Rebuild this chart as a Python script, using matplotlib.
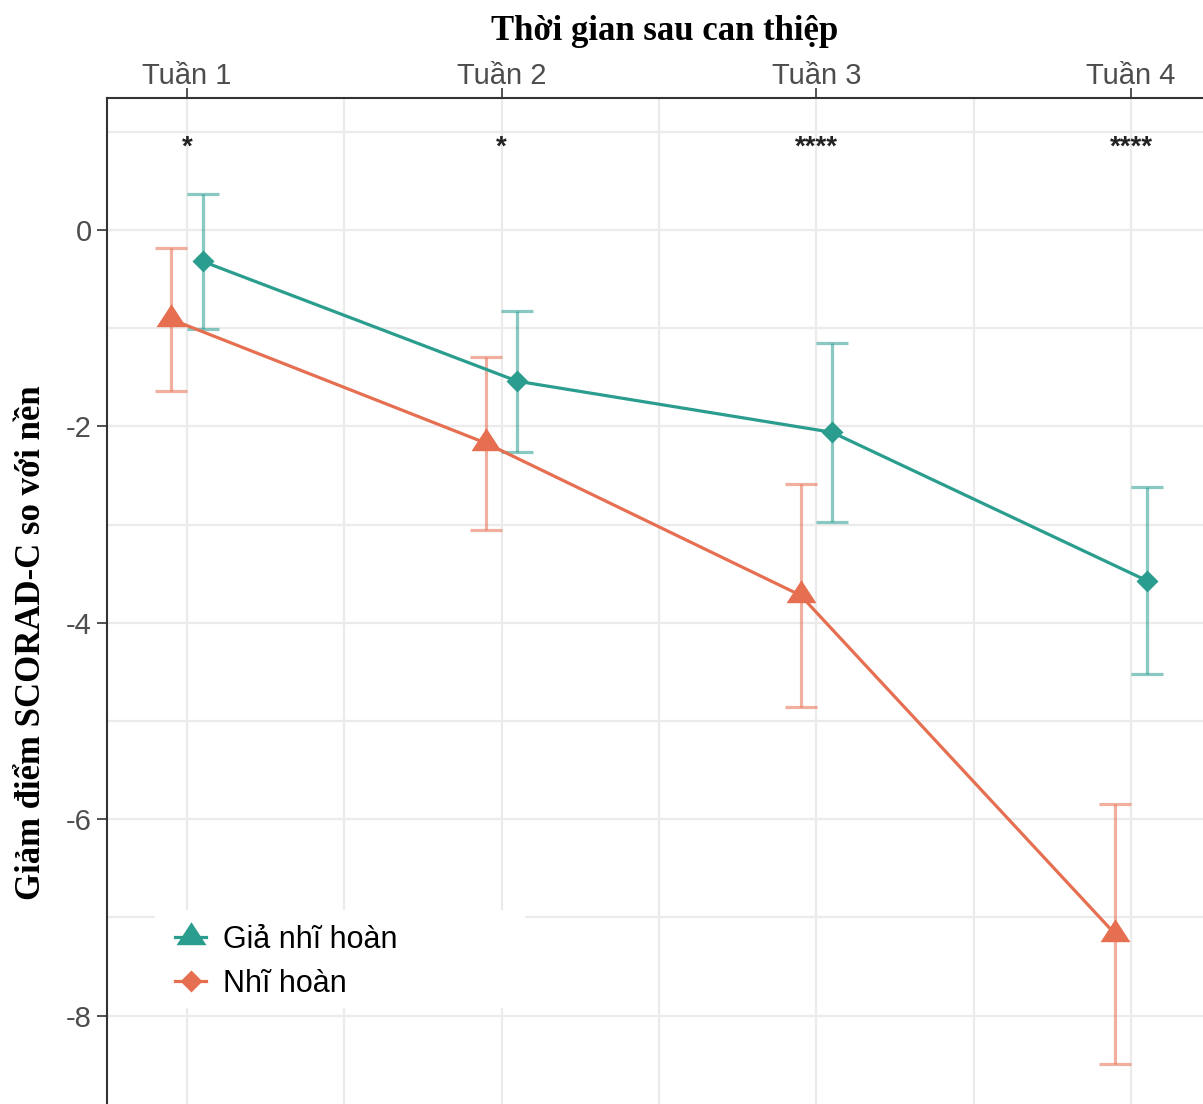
import matplotlib
matplotlib.use("Agg")
import matplotlib.pyplot as plt
from matplotlib.lines import Line2D
from matplotlib.patches import Rectangle
from matplotlib.ticker import MultipleLocator, FuncFormatter

# ---- data -------------------------------------------------------------
weeks = ["Tuần 1", "Tuần 2", "Tuần 3", "Tuần 4"]
significance = ["*", "*", "****", "****"]

# change in SCORAD-C from baseline: mean and half-width of the interval
sham_mean = [-0.32, -1.54, -2.06, -3.57]
sham_half = [0.69, 0.72, 0.91, 0.95]
treat_mean = [-0.91, -2.17, -3.72, -7.17]
treat_half = [0.73, 0.88, 1.135, 1.32]

legend_labels = ["Giả nhĩ hoàn", "Nhĩ hoàn"]
title_text = "Thời gian sau can thiệp"
ylabel_text = "Giảm điểm SCORAD-C so với nền"

# ---- style ------------------------------------------------------------
TEAL = "#2a9d8f"
ORANGE = "#e76f51"
GRID = "#ebebeb"
TICK_GREY = "#4d4d4d"
W, H = 1203, 1104
DPI = 100
DODGE = 0.05
LW = 2.3

# triangle centred on its centroid
tri = [(0, 15.3), (-15, -7.7), (15, -7.7), (0, 15.3)]

fig = plt.figure(figsize=(W / DPI, H / DPI), dpi=DPI)
left, top = 107, 98
ax = fig.add_axes([left / W, 0, (W - left) / W, (H - top) / H])

x = list(range(1, len(weeks) + 1))
xs_sham = [v + DODGE for v in x]
xs_treat = [v - DODGE for v in x]

# error bars
ax.errorbar(xs_sham, sham_mean, yerr=sham_half, fmt="none", ecolor=TEAL,
            alpha=0.55, elinewidth=LW, capsize=11.5, capthick=LW, zorder=3)
ax.errorbar(xs_treat, treat_mean, yerr=treat_half, fmt="none", ecolor=ORANGE,
            alpha=0.55, elinewidth=LW, capsize=11.5, capthick=LW, zorder=3)

# lines and points
ax.plot(xs_sham, sham_mean, color=TEAL, lw=LW, zorder=4)
ax.plot(xs_treat, treat_mean, color=ORANGE, lw=LW, zorder=4)
ax.plot(xs_sham, sham_mean, ls="none", marker="D", ms=11.5, color=TEAL,
        mec="none", zorder=5)
ax.plot(xs_treat, treat_mean, ls="none", marker=tri, ms=22, color=ORANGE,
        mec="none", zorder=5)

# significance stars
for xi, s in zip(x, significance):
    ax.text(xi, 0.77, s, ha="center", va="baseline", fontsize=20,
            color="#222222", fontweight="bold", family="Liberation Sans")

# axes limits and ticks
ax.set_xlim(0.746, 4.229)
ax.set_ylim(-8.9, 1.344)
ax.set_xticks(x)
ax.set_xticklabels(weeks)
ax.xaxis.set_minor_locator(MultipleLocator(0.5))
ax.yaxis.set_major_locator(MultipleLocator(2))
ax.yaxis.set_minor_locator(MultipleLocator(1))
ax.yaxis.set_major_formatter(FuncFormatter(lambda v, p: f"{v:.0f}"))

ax.xaxis.tick_top()
ax.tick_params(axis="x", which="major", length=7, width=1.2, color="#333333",
               labelsize=21, labelcolor=TICK_GREY, pad=-1)
ax.tick_params(axis="y", which="major", length=7, width=1.2, color="#333333",
               labelsize=21, labelcolor=TICK_GREY, pad=4)
ax.tick_params(which="minor", length=0)
for lab in ax.get_xticklabels() + ax.get_yticklabels():
    lab.set_family("Liberation Sans")

ax.grid(which="major", color=GRID, lw=1.6, zorder=0)
ax.grid(which="minor", color=GRID, lw=1.6, zorder=0)
ax.set_axisbelow(True)

for side in ("right", "bottom"):
    ax.spines[side].set_visible(False)
for side in ("top", "left"):
    ax.spines[side].set_color("#333333")
    ax.spines[side].set_linewidth(1.5)

# titles
fig.text(665 / W, 1 - 31 / H, title_text, ha="center", va="center",
         family="Liberation Serif", fontweight="bold", fontsize=25)
fig.text(32 / W, 1 - 643 / H, ylabel_text, ha="center", va="center",
         rotation=90, family="Liberation Serif", fontweight="bold",
         fontsize=25)

# legend on a white panel
panel = Rectangle((155 / W, 1 - 1008 / H), (525 - 155) / W, (1008 - 910) / H,
                  transform=fig.transFigure, facecolor="white",
                  edgecolor="none", zorder=2)
ax.add_artist(panel)
handles = [
    Line2D([], [], color=TEAL, lw=LW, marker=tri, ms=22, mec="none"),
    Line2D([], [], color=ORANGE, lw=LW, marker="D", ms=11.5, mec="none"),
]
leg = ax.legend(handles, legend_labels, loc="center left",
                bbox_to_anchor=(154 / W, 1 - 962 / H),
                bbox_transform=fig.transFigure, frameon=False,
                prop={"family": "Liberation Sans", "size": 22},
                handlelength=1.0, handletextpad=0.55, labelspacing=0.45,
                borderpad=0.2)
leg.set_zorder(6)

fig.savefig("out.png", dpi=DPI)
